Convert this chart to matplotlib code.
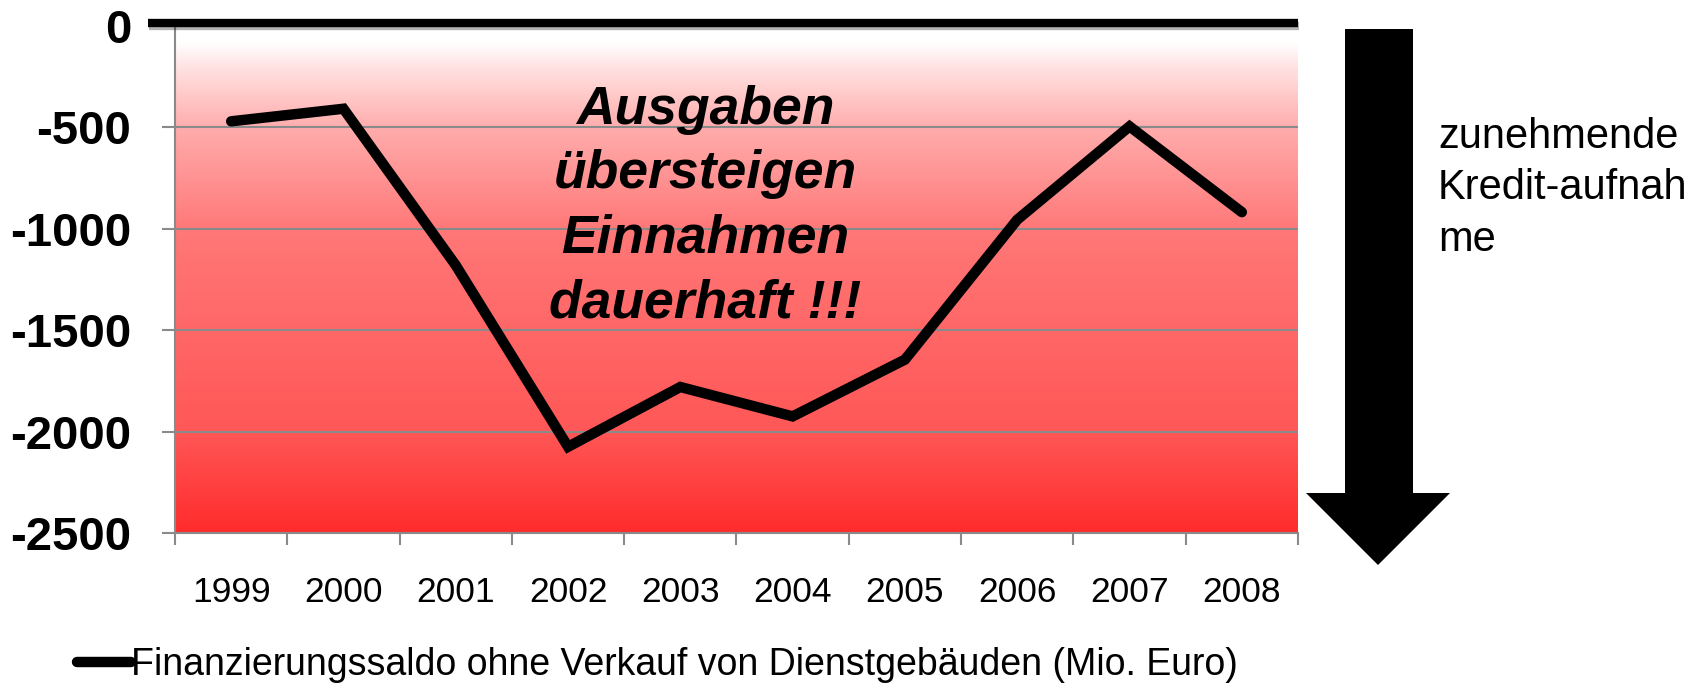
import numpy as np
import matplotlib
matplotlib.use("Agg")
import matplotlib.pyplot as plt
from matplotlib.colors import LinearSegmentedColormap
from matplotlib.patches import Polygon
from matplotlib.lines import Line2D
import matplotlib.patheffects as pe

plt.rcParams["font.family"] = ["Liberation Sans", "DejaVu Sans"]

# Daten
jahre = ["1999", "2000", "2001", "2002", "2003", "2004", "2005", "2006", "2007", "2008"]
saldo = [-470, -408, -1180, -2075, -1780, -1925, -1645, -955, -495, -918]
y_ticks = [0, -500, -1000, -1500, -2000, -2500]
serie_name = "Finanzierungssaldo ohne Verkauf von Dienstgebäuden (Mio. Euro)"
hinweis = "Ausgaben\nübersteigen\nEinnahmen\ndauerhaft !!!"
pfeil_text = "zunehmende\nKredit-aufnah\nme"

W, H = 1706, 686
fig = plt.figure(figsize=(W / 100, H / 100), dpi=100)
ax = fig.add_axes([175 / W, 1 - 533 / H, (1298 - 175) / W, (533 - 26) / H])

x = np.arange(len(jahre))
ax.set_xlim(-0.5, len(jahre) - 0.5)
ax.set_ylim(-2500, 0)

# Hintergrund-Verlauf weiß -> rot
cmap = LinearSegmentedColormap.from_list(
    "rot", [(0.0, "#ff2b2b"), (0.2, "#ff5757"), (0.45, "#ff6b6b"), (0.6, "#ff7878"),
            (0.8, "#ffacac"), (0.92, "#ffe2e2"), (0.97, "#ffffff"), (1.0, "#ffffff")])
grad = np.linspace(0, 1, 256).reshape(-1, 1)
ax.imshow(grad, cmap=cmap, origin="lower", aspect="auto",
          extent=(-0.5, len(jahre) - 0.5, -2500, 0), zorder=0)

ax.set_yticks(y_ticks)
ax.set_yticklabels([str(v) for v in y_ticks], fontsize=34, fontweight="bold")
ax.yaxis.grid(True, color="#8a8a8a", linewidth=1.5, zorder=1)
ax.set_axisbelow(False)

ax.set_xticks(x)
ax.set_xticklabels(jahre, fontsize=25.5)
ax.set_xticks(np.arange(len(jahre) + 1) - 0.5, minor=True)
ax.tick_params(axis="x", which="major", length=0, pad=31)
ax.tick_params(axis="x", which="minor", length=8.6, width=1.5, color="#8a8a8a")
ax.tick_params(axis="y", length=9.4, width=1.5, color="#8a8a8a", pad=22)

for s in ["top", "right"]:
    ax.spines[s].set_visible(False)
for s in ["left", "bottom"]:
    ax.spines[s].set_color("#8a8a8a")
    ax.spines[s].set_linewidth(1.5)

ax.plot(x, saldo, color="black", linewidth=7.5, solid_capstyle="round",
        solid_joinstyle="miter", zorder=3, label=serie_name)

ax.text(0.472, 0.644, hinweis, transform=ax.transAxes, ha="center", va="center",
        fontsize=38.5, fontweight="bold", fontstyle="italic", linespacing=1.37, zorder=4)

# dicke Nulllinie mit Schatten
null = Line2D([148 / W, 1298 / W], [1 - 23 / H, 1 - 23 / H], transform=fig.transFigure,
              color="black", linewidth=6, solid_capstyle="butt",
              path_effects=[pe.SimpleLineShadow(offset=(1, -2.5), alpha=0.3), pe.Normal()])
fig.add_artist(null)

# Pfeil
pts = [(1345, 29), (1413, 29), (1413, 493), (1450, 493), (1378, 565),
       (1306, 493), (1345, 493)]
pfeil = Polygon([(px / W, 1 - py / H) for px, py in pts], closed=True,
                transform=fig.transFigure, facecolor="black", edgecolor="none")
fig.add_artist(pfeil)

fig.text(1438 / W, 1 - 117 / H, pfeil_text, ha="left", va="top", fontsize=30,
         linespacing=1.37)

fig.legend(loc="center left", bbox_to_anchor=(77 / W, 1 - 665 / H), frameon=False,
           fontsize=27, handlelength=1.45, handletextpad=0.0, borderpad=0,
           borderaxespad=0)

fig.savefig("out.png", dpi=100)
